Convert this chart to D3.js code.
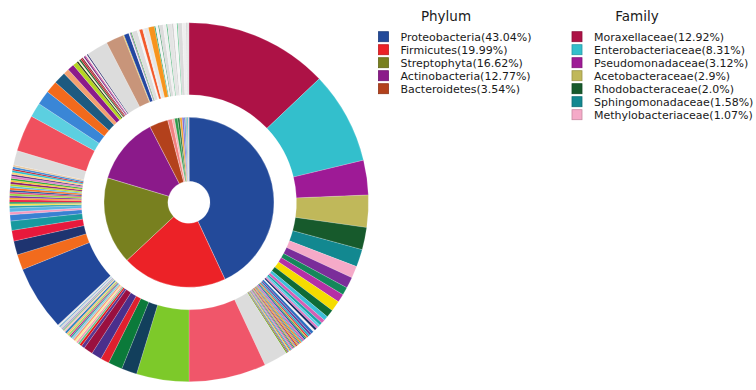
<!DOCTYPE html>
<html><head><meta charset="utf-8">
<script src="https://cdn.jsdelivr.net/npm/d3@7"></script>
<style>
body{margin:0;background:#fff}
svg{display:block}
text{font-family:"DejaVu Sans",Verdana,sans-serif;fill:#1a1a1a}
</style>
</head><body>
<svg id="chart" width="756" height="390"></svg>
<script>
// ---------- DATA ----------
const phylumNames = ["Proteobacteria","Firmicutes","Streptophyta","Actinobacteria","Bacteroidetes",
  "Other phylum 1","Other phylum 2","Other phylum 3","Other phylum 4","Other phylum 5","Other phylum 6",
  "Other phylum 7","Other phylum 8","Other phylum 9","Other phylum 10","Other phylum 11"];
const phylumValues = [43.04,19.99,16.62,12.77,3.54,0.85,0.45,0.60,0.40,0.45,0.35,0.30,0.25,0.20,0.12,0.07];
const phylumColors = ["#234a9a","#ec2227","#78801f","#8b1a8a","#b3411c","#f28080","#f4b0b0","#2e9a4a",
  "#1e6b30","#f0a030","#7a5ad0","#4a90d0","#a0a0a0","#2ab0b0","#c05080","#d0d0d0"];
const phylumLegendPct = ["43.04","19.99","16.62","12.77","3.54"];

const familyLegendNames = ["Moraxellaceae","Enterobacteriaceae","Pseudomonadaceae","Acetobacteraceae",
  "Rhodobacteraceae","Sphingomonadaceae","Methylobacteriaceae"];
const familyLegendPct = ["12.92","8.31","3.12","2.9","2.0","1.58","1.07"];

// family shares (%) within each phylum, in drawing order
const proteobacteriaFamilies = [12.92,8.31,3.12,2.90,2.00,1.58,1.07,
  1.00,0.70,0.75,0.95,0.70,0.40,0.35,
  0.25,0.22,0.20,0.22,0.18,0.25,0.20,0.18,
  0.12,0.08,0.10,0.14,0.09,0.11,0.10,0.07,0.13,0.10,0.09,0.11,0.12,0.08,0.10,0.10,0.09,0.11,0.13,0.07,0.10,0.10,0.08,0.12,
  2.15];
const proteobacteriaColors = ["#ad1246","#33bfcc","#9e1a96","#c0b85a","#175a2c","#128890","#f5aac8",
  "#7b2d9a","#14875a","#b52fa6","#f5dc00","#0e6b36","#3cc0d8","#d55fb5",
  "#1aa3a8","#5ad0e6","#e377c2","#1b2a66","#f4f4f4","#2a6fc0","#6a3d9a","#22b0c8",
  "#d62728","#f7941d","#2ca02c","#1f4e9a","#9467bd","#e7298a","#17becf","#8c564b","#ff7f0e","#1b9e77","#c51b7d","#bcbd22",
  "#e31a1c","#3182bd","#fd8d3c","#238b45","#6a51a3","#f768a1","#41b6c4","#a50f15","#ffd92f","#4292c6","#b2182b","#66a61e",
  "#dcdcdc"];

const firmicutesFamilies = [6.96,4.72,1.39,1.28,0.78,0.92,0.83,
  0.30,0.22,0.18,0.20,0.15,0.18,0.20,0.15,0.12,0.18,0.15,0.20,0.15,0.12,0.18,0.15,0.13,0.15];
const firmicutesColors = ["#f0566a","#7dc92a","#123f5c","#0b7a3a","#e0202e","#4a2f8c","#9a1040",
  "#5a3590","#e31a1c","#66c28a","#f4a3b8","#f2f29a","#fb9a70","#9ecae1","#2ca6a4","#c51b7d","#a6d96a",
  "#fdbf6f","#3182bd","#fcc5c0","#7fbf7b","#b2abd2","#d9d9d9","#74add1","#e8e8e8"];

const streptophytaFamilies = [5.86,1.39,1.25,0.97,0.83,0.56,0.25,0.35,
  0.20,0.18,0.15,0.22,0.16,0.18,0.20,0.15,0.17,0.19,0.16,0.18,0.20,0.15,0.17,0.18,0.16,0.19,0.17,0.15,0.18,0.17,
  1.30];
const streptophytaColors = ["#21479a","#f26b1d","#1e3470","#e8193c","#18999f","#3a80d2","#f49ac0","#5ab4e5",
  "#2aa0a8","#f7e04a","#1a8a4a","#e8193c","#f7941d","#7b2d9a","#98d040","#d6356f","#1f4e9a","#f26b1d","#4fb6e0",
  "#b5d620","#8a1a6a","#f4c020","#2ca02c","#e377c2","#5a2d80","#ffcf70","#17becf","#c0202a","#3a86d6","#e6c8a0",
  "#dcdcdc"];

const actinobacteriaFamilies = [3.30,1.30,1.30,1.10,1.10,0.50,0.60,0.40,
  0.15,0.12,0.15,0.14,0.12,0.10,0.12,0.10,0.12,0.10,
  1.95];
const actinobacteriaColors = ["#f0505e","#5ccfe0","#3a86d6","#f26a1c","#1d5a80","#f4a070","#8b1a8b","#b5d620",
  "#2c3a10","#f8f0d0","#1e6b30","#c0202a","#8b1a2a","#f4f4f4","#6a1a7a","#d04090","#f0f0f0","#2a2a6a",
  "#dcdcdc"];

const bacteroidetesFamilies = [1.60,0.08,0.45,0.10,0.08,0.10,0.50,0.20,0.30,0.13];
const bacteroidetesColors = ["#c8957a","#e0c040","#2347a0","#f2f2f2","#8a4ab0","#4caf50","#dedede","#f4f4f4","#f2592a","#eaeaea"];

const otherPhylaFamilies = [0.40,0.55,0.10,0.25,0.08,0.35,0.30,0.08,0.40,0.15,0.30,0.08,0.40,0.35,0.07,0.18];
const otherPhylaColors = ["#e6e6e6","#f7941d","#1f9e60","#f4f4f4","#2e8b57","#dcdcdc","#f0f0f0","#27a35a",
  "#e4e4e4","#cfcfcf","#f6f6f6","#3cb371","#dadada","#eeeeee","#c0c0c0","#e2e2e2"];

// ---------- BUILD ----------
const familyValues = [].concat(proteobacteriaFamilies, firmicutesFamilies, streptophytaFamilies,
  actinobacteriaFamilies, bacteroidetesFamilies, otherPhylaFamilies);
const familyColors = [].concat(proteobacteriaColors, firmicutesColors, streptophytaColors,
  actinobacteriaColors, bacteroidetesColors, otherPhylaColors);

const svg = d3.select("#chart");
const cx = 189, cy = 202.3;
const g = svg.append("g").attr("transform", `translate(${cx},${cy})`);

const pie = d3.pie().sort(null).value(d => d.v);

const innerData = pie(phylumValues.map((v, i) => ({v, c: phylumColors[i], n: phylumNames[i]})));
const innerArc = d3.arc().innerRadius(21).outerRadius(85);
g.append("g").selectAll("path").data(innerData).join("path")
  .attr("d", innerArc)
  .attr("fill", d => d.data.c)
  .attr("stroke", "#ffffff").attr("stroke-opacity", 0.55).attr("stroke-width", 0.5);

const outerData = pie(familyValues.map((v, i) => ({v, c: familyColors[i]})));
const outerArc = d3.arc().innerRadius(107.5).outerRadius(179.5);
g.append("g").selectAll("path").data(outerData).join("path")
  .attr("d", outerArc)
  .attr("fill", d => d.data.c)
  .attr("stroke", "#ffffff").attr("stroke-opacity", 0.5).attr("stroke-width", 0.35);

// ---------- LEGENDS ----------
function legend(x0, title, titleX, names, pcts, colors) {
  const lg = svg.append("g");
  lg.append("text").attr("x", titleX).attr("y", 20.8).attr("text-anchor", "middle")
    .style("font-size", "13.5px").text(title);
  const y = d3.scaleLinear().domain([0, 1]).range([36.7, 49.7]);
  names.forEach((n, i) => {
    const c = colors[i];
    lg.append("rect").attr("x", x0).attr("y", y(i) - 5).attr("width", 10).attr("height", 10)
      .attr("fill", c).attr("stroke", d3.color(c).darker(0.6)).attr("stroke-width", 0.8);
    lg.append("text").attr("x", x0 + 22).attr("y", y(i)).attr("dy", "0.36em")
      .style("font-size", "11px").text(`${n}(${pcts[i]}%)`);
  });
}
legend(378.5, "Phylum", 446, phylumNames.slice(0, 5), phylumLegendPct, phylumColors.slice(0, 5));
legend(572, "Family", 637, familyLegendNames, familyLegendPct, proteobacteriaColors.slice(0, 7));
</script>
</body></html>
